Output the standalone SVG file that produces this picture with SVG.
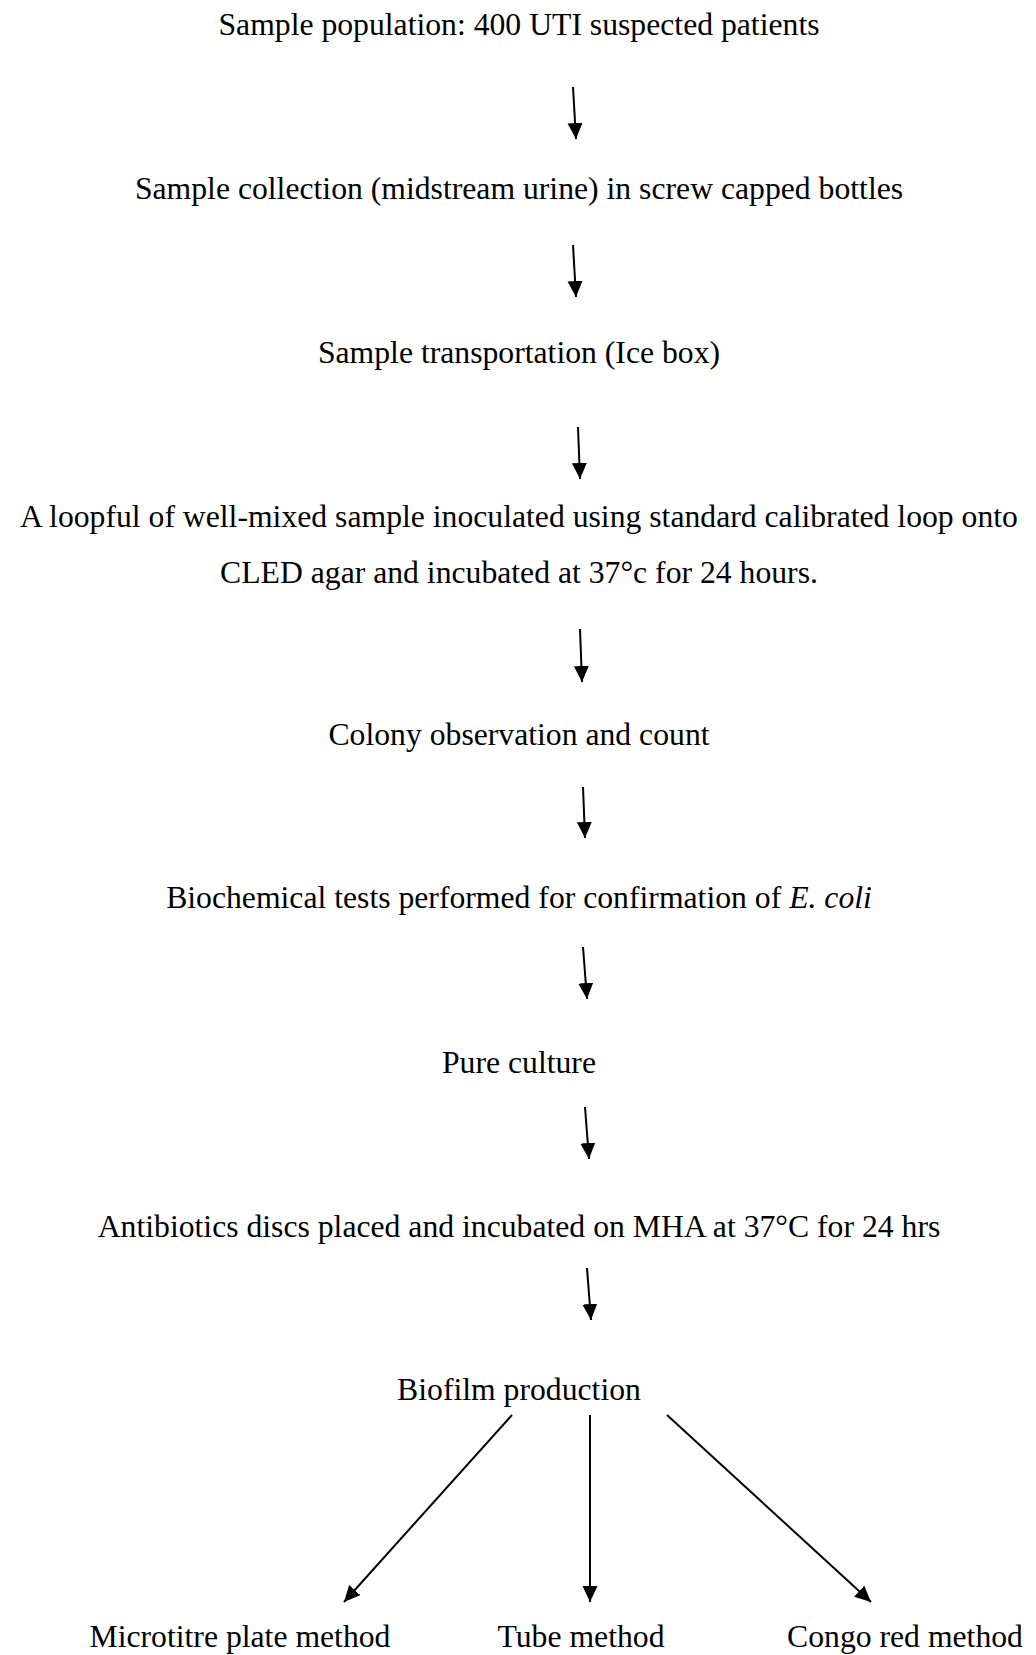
<svg xmlns="http://www.w3.org/2000/svg" width="1036" height="1655" viewBox="0 0 1036 1655">
<style>
.t{font-family:"Liberation Serif","Times New Roman",serif;font-size:31.7px;fill:#000;text-anchor:middle}
.c line{stroke:#000;stroke-width:2;fill:none;marker-end:url(#ah)}
</style>
<defs>
<marker id="ah" markerUnits="userSpaceOnUse" markerWidth="17" markerHeight="16" refX="16" refY="7.5" orient="auto">
<path d="M0,0 L16,7.5 L0,15 z" fill="#000"/>
</marker>
</defs>
<rect width="1036" height="1655" fill="#fff"/>
<g id="n1"><text class="t" x="519" y="35">Sample population: 400 UTI suspected patients</text></g>
<g id="n2"><text class="t" x="519" y="199">Sample collection (midstream urine) in screw capped bottles</text></g>
<g id="n3"><text class="t" x="519" y="363">Sample transportation (Ice box)</text></g>
<g id="n4"><text class="t" x="519" y="527">A loopful of well-mixed sample inoculated using standard calibrated loop onto</text><text class="t" x="519" y="583">CLED agar and incubated at 37°c for 24 hours.</text></g>
<g id="n5"><text class="t" x="519" y="745">Colony observation and count</text></g>
<g id="n6"><text class="t" x="519" y="908">Biochemical tests performed for confirmation of <tspan font-style="italic">E. coli</tspan></text></g>
<g id="n7"><text class="t" x="519" y="1073">Pure culture</text></g>
<g id="n8"><text class="t" x="519" y="1237">Antibiotics discs placed and incubated on MHA at 37°C for 24 hrs</text></g>
<g id="n9"><text class="t" x="519" y="1400">Biofilm production</text></g>
<g id="n10"><text class="t" x="240" y="1647">Microtitre plate method</text></g>
<g id="n11"><text class="t" x="581" y="1647">Tube method</text></g>
<g id="n12"><text class="t" x="905" y="1647">Congo red method</text></g>
<g id="connectors" class="c">
<line x1="573" y1="87" x2="576" y2="139"/>
<line x1="573" y1="245" x2="576" y2="297"/>
<line x1="578" y1="427" x2="580" y2="479"/>
<line x1="580" y1="629" x2="582" y2="682"/>
<line x1="583" y1="787" x2="585" y2="838"/>
<line x1="583" y1="947" x2="587" y2="999"/>
<line x1="585" y1="1107" x2="589" y2="1159"/>
<line x1="587" y1="1268" x2="591" y2="1320"/>
<line x1="512" y1="1415" x2="344" y2="1602"/>
<line x1="590" y1="1415" x2="590" y2="1602"/>
<line x1="667" y1="1415" x2="871" y2="1602"/>
</g>
</svg>
